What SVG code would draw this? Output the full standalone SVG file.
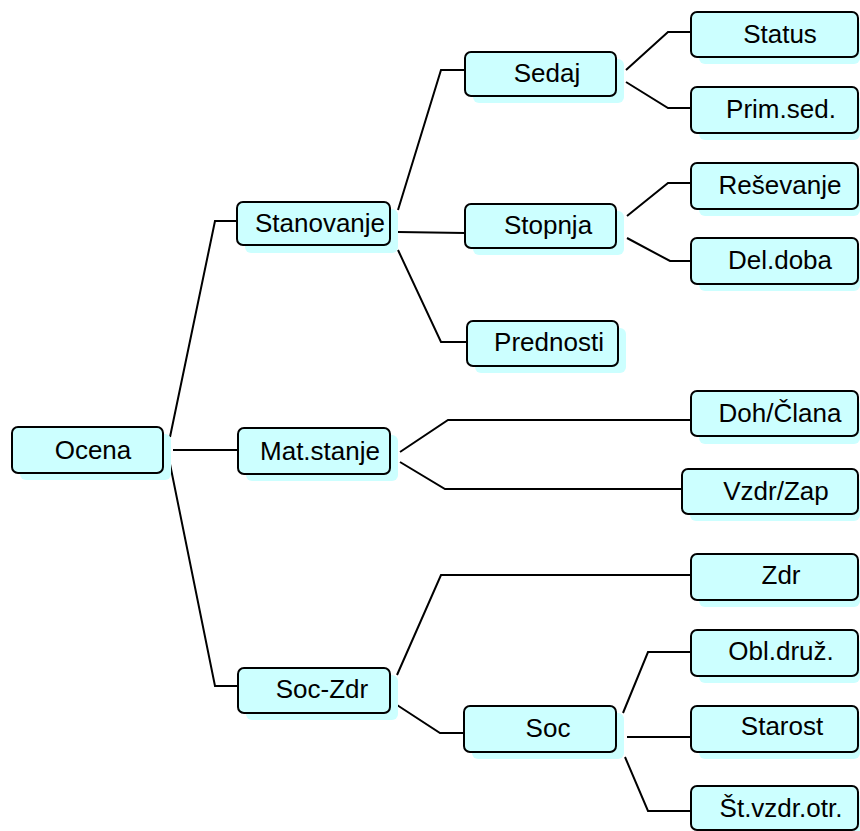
<svg xmlns="http://www.w3.org/2000/svg" width="860" height="831" viewBox="0 0 860 831">
  <defs>
    <style>
      .shadow { fill: #ccffff; }
      .box { fill: #ccffff; stroke: #000; stroke-width: 2; }
      .lbl { font-family: "Liberation Sans", Arial, sans-serif; font-size: 26px; fill: #000; text-anchor: middle; }
      .links path { fill: none; stroke: #000; stroke-width: 2; stroke-linejoin: miter; }
    </style>
  </defs>
  <rect width="860" height="831" fill="#fff"/>

  <g class="links">
    <!-- Ocena -->
    <path d="M170,437 L215,221 L238,221"/>
    <path d="M173,450 L238,450"/>
    <path d="M170,464 L215,686 L238,686"/>
    <!-- Stanovanje -->
    <path d="M398,210 L441,70 L465,70"/>
    <path d="M398,232 L465,233"/>
    <path d="M398,250 L441,342 L467,342"/>
    <!-- Sedaj -->
    <path d="M626,70 L668,32 L691,32"/>
    <path d="M626,82 L668,108 L691,108"/>
    <!-- Stopnja -->
    <path d="M627,216 L668,183 L691,183"/>
    <path d="M627,238 L670,261 L691,261"/>
    <!-- Mat.stanje -->
    <path d="M400,452 L448,420 L691,420"/>
    <path d="M400,462 L445,489 L682,489"/>
    <!-- Soc-Zdr -->
    <path d="M397,675 L441,575 L691,575"/>
    <path d="M397,705 L440,733 L464,733"/>
    <!-- Soc -->
    <path d="M623,713 L648,652 L691,652"/>
    <path d="M627,737 L691,737"/>
    <path d="M625,757 L648,811 L691,811"/>
  </g>

  <g id="ocena">
    <rect class="shadow" x="20" y="434" width="151" height="46" rx="6"/>
    <rect class="box" x="12" y="427" width="151" height="46" rx="6"/>
    <text class="lbl" x="93" y="459">Ocena</text>
  </g>

  <g id="stanovanje">
    <rect class="shadow" x="245" y="209" width="153" height="44" rx="6"/>
    <rect class="box" x="237" y="202" width="153" height="43" rx="6"/>
    <text class="lbl" x="320" y="232">Stanovanje</text>
  </g>

  <g id="mat-stanje">
    <rect class="shadow" x="246" y="435" width="152" height="46" rx="6"/>
    <rect class="box" x="238" y="428" width="152" height="46" rx="6"/>
    <text class="lbl" x="320" y="460">Mat.stanje</text>
  </g>

  <g id="soc-zdr">
    <rect class="shadow" x="246" y="675" width="152" height="45" rx="6"/>
    <rect class="box" x="238" y="668" width="152" height="45" rx="6"/>
    <text class="lbl" x="322" y="698">Soc-Zdr</text>
  </g>

  <g id="sedaj">
    <rect class="shadow" x="473" y="59" width="151" height="44" rx="6"/>
    <rect class="box" x="465" y="52" width="151" height="44" rx="6"/>
    <text class="lbl" x="547" y="82">Sedaj</text>
  </g>

  <g id="stopnja">
    <rect class="shadow" x="473" y="211" width="151" height="44" rx="6"/>
    <rect class="box" x="465" y="204" width="151" height="44" rx="6"/>
    <text class="lbl" x="548" y="234">Stopnja</text>
  </g>

  <g id="prednosti">
    <rect class="shadow" x="475" y="328" width="151" height="45" rx="6"/>
    <rect class="box" x="467" y="321" width="151" height="45" rx="6"/>
    <text class="lbl" x="549" y="351">Prednosti</text>
  </g>

  <g id="soc">
    <rect class="shadow" x="472" y="713" width="152" height="46" rx="6"/>
    <rect class="box" x="464" y="706" width="152" height="46" rx="6"/>
    <text class="lbl" x="548" y="737">Soc</text>
  </g>

  <g id="status">
    <rect class="shadow" x="699" y="19" width="161" height="45" rx="6"/>
    <rect class="box" x="691" y="12" width="167" height="45" rx="6"/>
    <text class="lbl" x="780" y="43">Status</text>
  </g>

  <g id="prim-sed">
    <rect class="shadow" x="699" y="94" width="161" height="46" rx="6"/>
    <rect class="box" x="691" y="87" width="167" height="46" rx="6"/>
    <text class="lbl" x="781" y="118">Prim.sed.</text>
  </g>

  <g id="resevanje">
    <rect class="shadow" x="699" y="170" width="161" height="46" rx="6"/>
    <rect class="box" x="691" y="163" width="167" height="46" rx="6"/>
    <text class="lbl" x="780" y="194">Reševanje</text>
  </g>

  <g id="del-doba">
    <rect class="shadow" x="699" y="245" width="161" height="46" rx="6"/>
    <rect class="box" x="691" y="238" width="167" height="46" rx="6"/>
    <text class="lbl" x="780" y="269">Del.doba</text>
  </g>

  <g id="doh-clana">
    <rect class="shadow" x="699" y="399" width="161" height="45" rx="6"/>
    <rect class="box" x="691" y="391" width="167" height="45" rx="6"/>
    <text class="lbl" x="780" y="422">Doh/Člana</text>
  </g>

  <g id="vzdr-zap">
    <rect class="shadow" x="690" y="476" width="170" height="45" rx="6"/>
    <rect class="box" x="682" y="469" width="176" height="45" rx="6"/>
    <text class="lbl" x="776" y="500">Vzdr/Zap</text>
  </g>

  <g id="zdr">
    <rect class="shadow" x="699" y="561" width="161" height="46" rx="6"/>
    <rect class="box" x="691" y="554" width="167" height="46" rx="6"/>
    <text class="lbl" x="781" y="584">Zdr</text>
  </g>

  <g id="obl-druz">
    <rect class="shadow" x="699" y="637" width="161" height="46" rx="6"/>
    <rect class="box" x="691" y="630" width="167" height="46" rx="6"/>
    <text class="lbl" x="781" y="660">Obl.druž.</text>
  </g>

  <g id="starost">
    <rect class="shadow" x="699" y="713" width="161" height="46" rx="6"/>
    <rect class="box" x="691" y="706" width="167" height="46" rx="6"/>
    <text class="lbl" x="782" y="735">Starost</text>
  </g>

  <g id="st-vzdr-otr">
    <rect class="shadow" x="699" y="792" width="161" height="45" rx="6"/>
    <rect class="box" x="691" y="786" width="167" height="44" rx="6"/>
    <text class="lbl" x="781" y="817">Št.vzdr.otr.</text>
  </g>
</svg>
